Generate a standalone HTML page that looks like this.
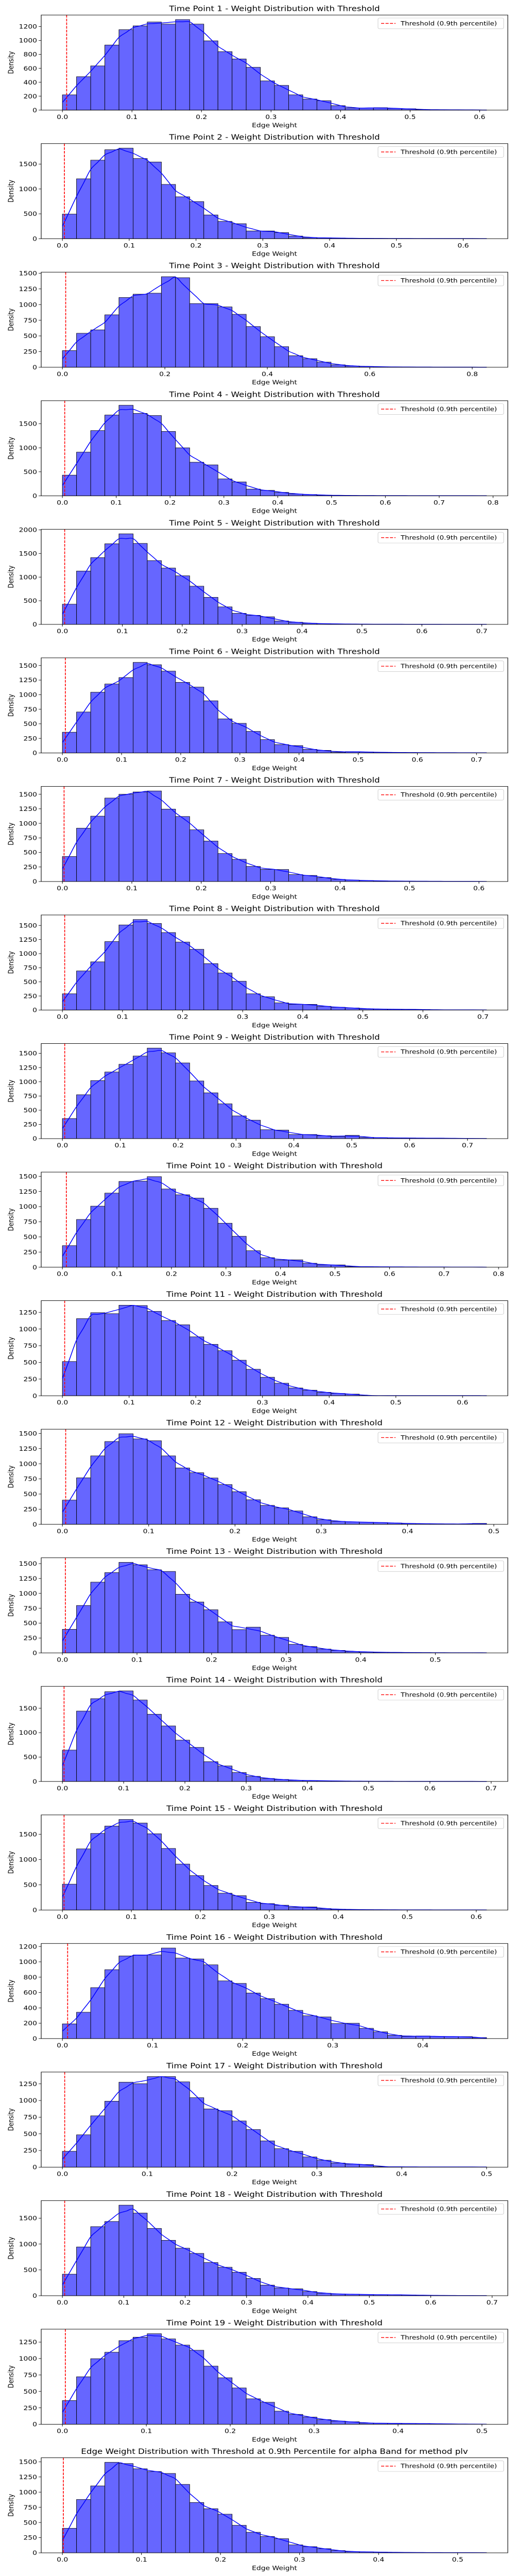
<!DOCTYPE html>
<html><head><meta charset="utf-8">
<title>Edge Weight Distributions</title>
<style>
html,body{margin:0;padding:0;background:#fff;}
svg{display:block;font-family:"DejaVu Sans","Liberation Sans",sans-serif;}
</style></head>
<body>
<svg id="fig" xmlns="http://www.w3.org/2000/svg" width="1000" height="5000" viewBox="0 0 1000 6000" preserveAspectRatio="none" style="width:1000px;height:5000px"></svg>
<script>
// ---- data (bin counts, 30 bins per panel) ----
const binCounts01 = [220,480,635,935,1155,1210,1265,1235,1300,1235,995,840,735,615,420,355,220,160,135,65,30,30,35,25,20,8,5,5,3,3];
const binCounts02 = [495,1205,1580,1790,1822,1613,1543,1092,843,747,478,348,302,156,156,123,53,23,17,13,8,6,5,4,3,3,2,2,2,2];
const binCounts03 = [266,542,597,837,1113,1166,1182,1445,1429,1016,1016,963,845,650,487,329,184,137,82,39,21,13,8,5,4,3,3,2,2,2];
const binCounts04 = [431,910,1359,1683,1886,1717,1672,1341,1000,700,645,352,290,141,114,72,38,28,14,10,6,5,4,3,3,2,2,2,2,2];
const binCounts05 = [427,1129,1413,1706,1916,1713,1350,1192,1028,808,573,371,234,192,161,73,45,24,14,10,7,5,4,4,3,3,2,2,2,2];
const binCounts06 = [356,703,1042,1183,1294,1554,1514,1404,1212,1130,895,585,508,370,229,144,127,62,45,14,23,17,11,8,6,5,4,3,3,2];
const binCounts07 = [430,917,1124,1435,1500,1540,1557,1245,1118,889,696,481,382,260,209,207,119,105,68,37,25,17,11,8,6,5,4,3,3,2];
const binCounts08 = [289,694,855,1214,1509,1605,1535,1374,1205,1077,823,657,511,289,236,128,102,102,67,50,38,23,18,15,12,10,4,3,3,3];
const binCounts09 = [354,772,1021,1172,1308,1453,1593,1509,1332,1015,806,612,400,325,157,151,73,73,52,35,58,23,17,12,12,8,9,6,4,3];
const binCounts10 = [356,788,1008,1223,1416,1421,1495,1291,1196,1141,973,726,511,272,158,117,122,65,38,38,11,8,6,5,4,3,3,2,2,2];
const binCounts11 = [513,1156,1245,1230,1357,1352,1265,1128,1064,883,771,675,533,397,278,188,117,84,52,35,25,3,2,2,2,2,2,2,2,2];
const binCounts12 = [400,768,1130,1367,1495,1410,1380,1130,931,852,765,656,539,406,313,272,221,125,76,49,41,35,30,22,14,11,8,6,6,15];
const binCounts13 = [397,797,1189,1350,1522,1481,1397,1369,986,856,725,522,392,433,297,261,144,108,64,42,25,17,11,8,6,4,3,2,2,2];
const binCounts14 = [643,1443,1697,1839,1856,1669,1378,1138,847,698,406,318,183,105,61,41,24,20,14,10,7,5,4,3,3,2,2,2,2,2];
const binCounts15 = [512,1210,1516,1663,1793,1722,1510,1219,910,681,486,333,284,153,127,95,55,62,29,16,10,7,5,4,3,3,2,2,2,2];
const binCounts16 = [192,343,664,898,1077,1090,1090,1180,1049,1038,961,752,719,594,521,448,368,297,282,196,200,134,88,43,28,34,28,26,26,13];
const binCounts17 = [238,485,770,990,1275,1252,1359,1359,1280,1042,874,847,693,564,394,277,238,153,104,62,45,40,7,5,4,3,3,3,3,3];
const binCounts18 = [417,944,1337,1437,1753,1600,1303,1073,920,819,642,551,455,335,206,149,134,81,48,33,29,24,19,19,14,10,6,4,3,3];
const binCounts19 = [361,723,998,1096,1273,1325,1378,1299,1205,1126,885,708,553,388,335,200,151,109,72,49,38,19,15,15,11,11,8,5,3,2];
const binCounts20 = [405,879,1103,1492,1471,1385,1340,1308,1128,830,727,637,454,339,270,233,131,102,69,37,20,16,12,8,6,5,4,3,3,3];
const allCounts = [binCounts01,binCounts02,binCounts03,binCounts04,binCounts05,binCounts06,binCounts07,binCounts08,binCounts09,binCounts10,binCounts11,binCounts12,binCounts13,binCounts14,binCounts15,binCounts16,binCounts17,binCounts18,binCounts19,binCounts20];
const xMaxValues = [0.61,0.635,0.828,0.788,0.708,0.717,0.611,0.706,0.733,0.778,0.636,0.4916,0.5687,0.6925,0.615,0.4707,0.5,0.691,0.5055,0.5366];
const thresholdValues = [0.0061,0.003,0.0064,0.0043,0.0038,0.005,0.0024,0.0038,0.004,0.0072,0.0034,0.0038,0.004,0.0027,0.0024,0.0058,0.0027,0.0037,0.0035,0.0012];
const yTickSteps = [200,500,250,500,500,250,250,250,250,250,250,250,250,500,500,200,250,500,250,250];
const xTickSteps = [0.1,0.1,0.2,0.1,0.1,0.1,0.1,0.1,0.1,0.1,0.1,0.1,0.1,0.1,0.1,0.1,0.1,0.1,0.1,0.1];
const panelTitles = [];
for (let i = 1; i <= 19; i++) panelTitles.push('Time Point ' + i + ' - Weight Distribution with Threshold');
panelTitles.push('Edge Weight Distribution with Threshold at 0.9th Percentile for alpha Band for method plv');

const NS = 'http://www.w3.org/2000/svg';
const svg = document.getElementById('fig');
function mk(tag, attrs, parent) {
  const e = document.createElementNS(NS, tag);
  for (const k in attrs) e.setAttribute(k, attrs[k]);
  (parent || svg).appendChild(e);
  return e;
}
const LEFT = 80, WIDTH = 906, HEIGHT = 221.5, TOP0 = 35, PITCH = 299.45;

allCounts.forEach((counts, p) => {
  const g = mk('g', {});
  
  
  const top = TOP0 + PITCH * p, bottom = top + HEIGHT;
  const xmax = xMaxValues[p];
  const x0 = -0.05 * xmax, xr = 1.1 * xmax;
  const ymaxData = Math.max(...counts);
  const ytop = 1.05 * ymaxData;
  const xs = v => LEFT + (v - x0) / xr * WIDTH;
  const ys = v => bottom - v / ytop * HEIGHT;
  const nb = counts.length, bw = xmax / nb;

  counts.forEach((c, j) => {
    const r = mk('rect', {x: xs(j * bw), y: ys(c), width: xs((j + 1) * bw) - xs(j * bw), height: bottom - ys(c), fill: '#6666ff', stroke: '#000', 'stroke-width': 0.9}, g);
    
    
  });

  const b = k => (k < 0 || k >= nb) ? 0 : counts[k];
  const pts = [];
  for (let j = 0; j <= nb; j++) {
    pts.push([j * bw, (b(j - 1) + b(j)) / 2]);
    if (j < nb) pts.push([(j + 0.5) * bw, 0.25 * b(j - 1) + 0.5 * b(j) + 0.25 * b(j + 1)]);
  }
  const P = pts.map(q => [xs(q[0]), ys(q[1])]);
  let d = 'M' + P[0][0].toFixed(2) + ',' + P[0][1].toFixed(2);
  for (let i = 0; i < P.length - 1; i++) {
    const a = P[Math.max(0, i - 1)], p1 = P[i], p2 = P[i + 1], c2 = P[Math.min(P.length - 1, i + 2)];
    const c1x = p1[0] + (p2[0] - a[0]) / 6, c1y = p1[1] + (p2[1] - a[1]) / 6;
    const c2x = p2[0] - (c2[0] - p1[0]) / 6, c2y = p2[1] - (c2[1] - p1[1]) / 6;
    d += ' C' + c1x.toFixed(2) + ',' + c1y.toFixed(2) + ' ' + c2x.toFixed(2) + ',' + c2y.toFixed(2) + ' ' + p2[0].toFixed(2) + ',' + p2[1].toFixed(2);
  }
  const kde = mk('path', {d: d, fill: 'none', stroke: '#0000ff', 'stroke-width': 1.6}, g);
  
  

  const tx = xs(thresholdValues[p]);
  const tl = mk('line', {x1: tx, x2: tx, y1: top, y2: bottom, stroke: '#ff0000', 'stroke-width': 1.6, 'stroke-dasharray': '6,2.6'}, g);
  
  

  const fr = mk('rect', {x: LEFT, y: top, width: WIDTH, height: HEIGHT, fill: 'none', stroke: '#000', 'stroke-width': 1.1}, g);
  
  

  const ystep = yTickSteps[p];
  for (let v = 0; v <= ytop + 1e-9; v += ystep) {
    const y = ys(v);
    mk('line', {x1: LEFT - 4.9, x2: LEFT, y1: y, y2: y, stroke: '#000', 'stroke-width': 1}, g);
    const t = mk('text', {x: LEFT - 8, y: y + 5, 'text-anchor': 'end', 'font-size': 13.9, fill: '#000'}, g);
    t.textContent = String(v);
    
    
  }
  const xstep = xTickSteps[p];
  for (let k = 0; k * xstep <= x0 + xr + 1e-9; k++) {
    const v = k * xstep;
    const x = xs(v);
    mk('line', {x1: x, x2: x, y1: bottom, y2: bottom + 4.9, stroke: '#000', 'stroke-width': 1}, g);
    const t = mk('text', {x: x, y: bottom + 20.5, 'text-anchor': 'middle', 'font-size': 13.9, fill: '#000'}, g);
    t.textContent = v.toFixed(1);
    
    
  }
  const xl = mk('text', {x: LEFT + WIDTH / 2, y: bottom + 40, 'text-anchor': 'middle', 'font-size': 13.9, fill: '#000'}, g);
  xl.textContent = 'Edge Weight';
  
  
  const cy = top + HEIGHT / 2;
  const yl = mk('text', {x: 26, y: cy, 'text-anchor': 'middle', 'font-size': 13.9, fill: '#000', transform: 'rotate(-90 26 ' + cy + ')'}, g);
  yl.textContent = 'Density';
  
  
  const tt = mk('text', {x: LEFT + WIDTH / 2, y: top - 9, 'text-anchor': 'middle', 'font-size': 16.7, fill: '#000'}, g);
  tt.textContent = panelTitles[p];
  
  

  const lg = mk('g', {}, g);
  
  
  mk('rect', {x: 734, y: top + 7, width: 244, height: 25, rx: 3, fill: '#fff', 'fill-opacity': 0.8, stroke: '#cccccc', 'stroke-width': 1}, lg);
  const ly = top + 19.5;
  const ll = mk('line', {x1: 740, x2: 768, y1: ly, y2: ly, stroke: '#ff0000', 'stroke-width': 1.6, 'stroke-dasharray': '6,2.6'}, lg);
  
  
  const lt = mk('text', {x: 778, y: ly + 4.8, 'font-size': 13.4, fill: '#000'}, lg);
  lt.textContent = 'Threshold (0.9th percentile)';
  
  
});
</script>
</body></html>
